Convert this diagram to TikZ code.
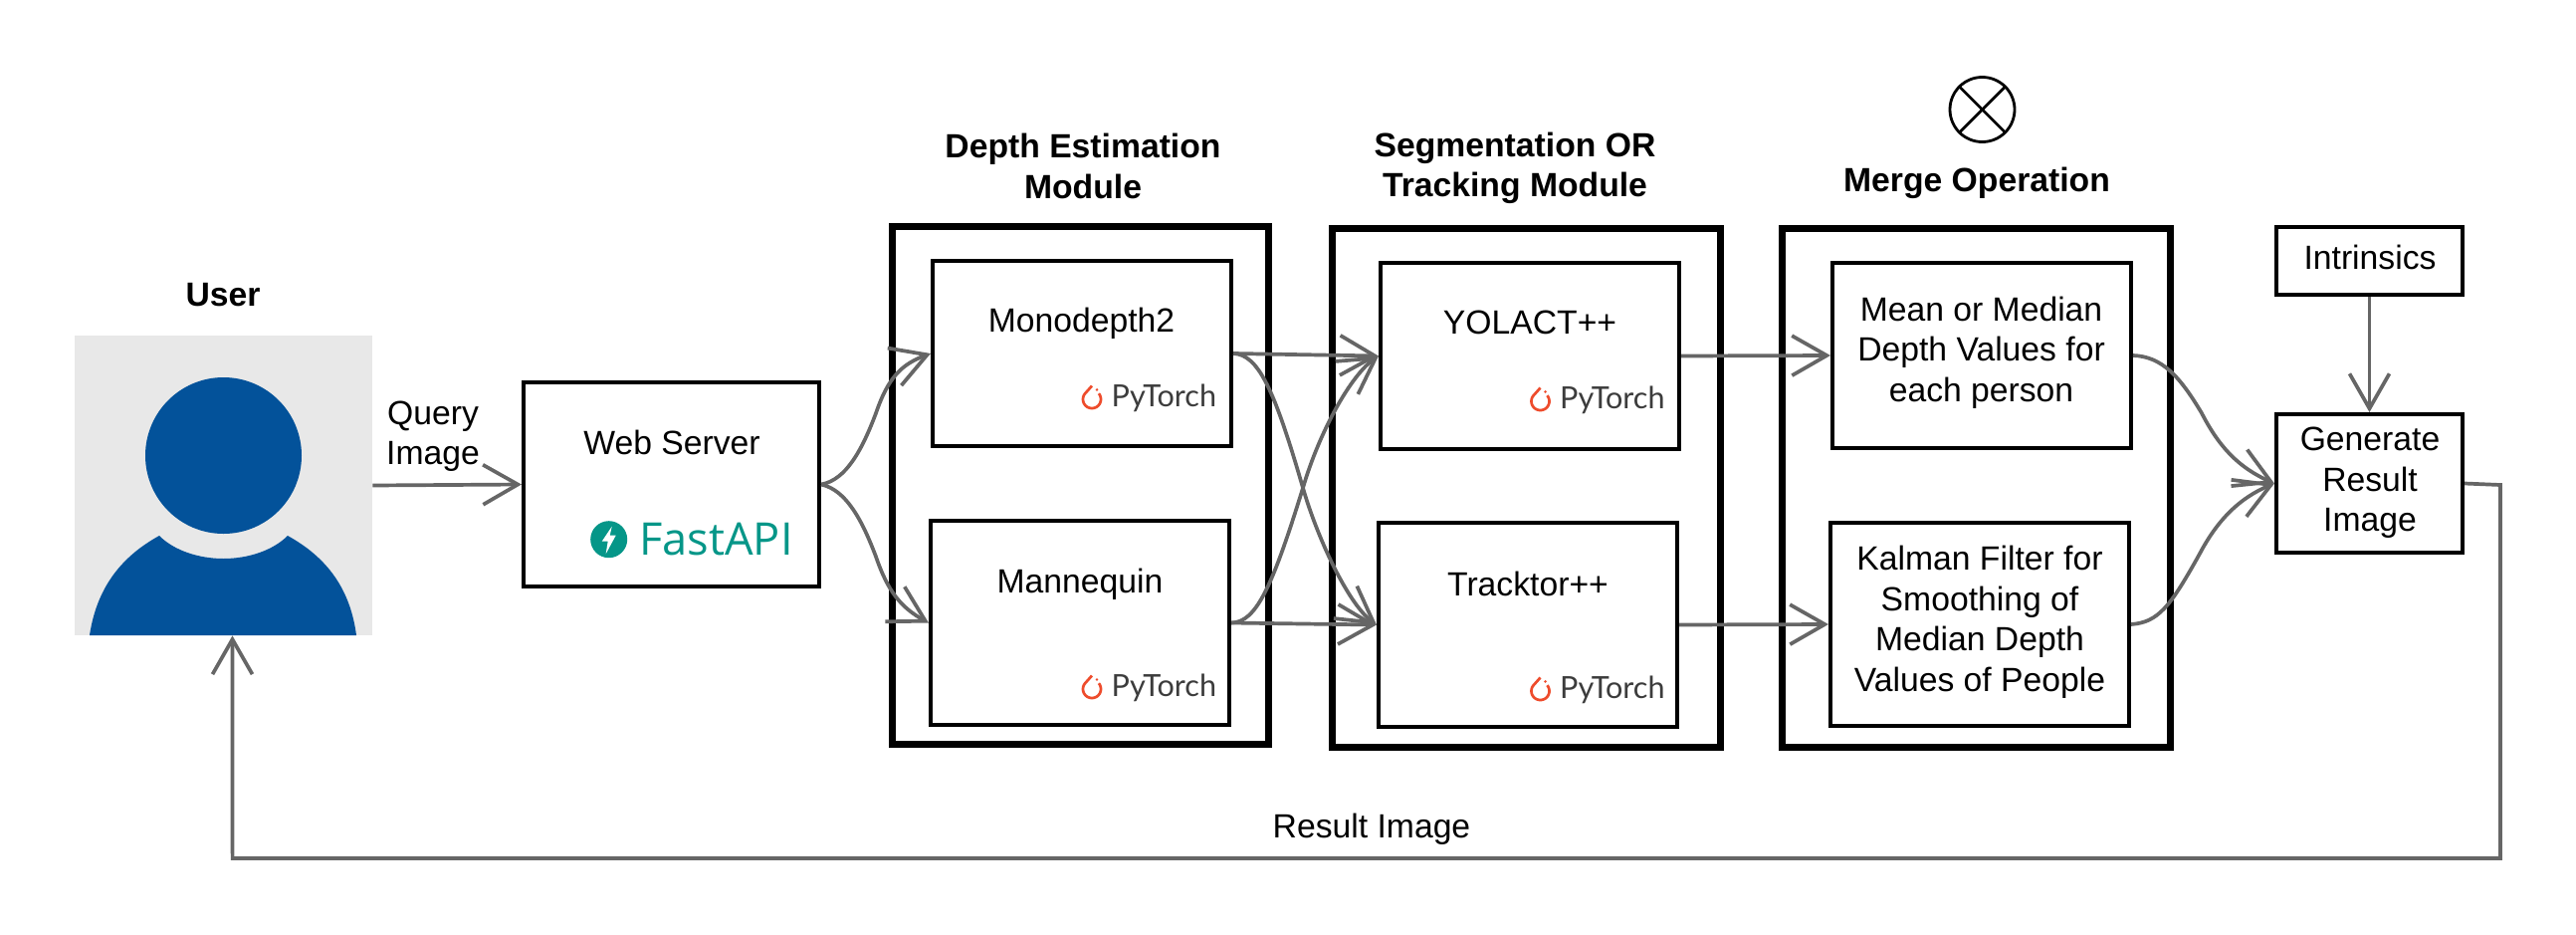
\documentclass[tikz,border=0pt]{standalone}
\usepackage{fontspec}
\setmainfont{Liberation Sans}
\newfontfamily\opensans{Open Sans}
\newfontfamily\latofont{Lato}
\usetikzlibrary{arrows.meta}
\definecolor{conn}{HTML}{666666}
\definecolor{userblue}{HTML}{03529A}
\definecolor{usergray}{HTML}{E8E8E8}
\definecolor{fastteal}{HTML}{059688}
\definecolor{torchred}{HTML}{EE4C2C}
\definecolor{torchtxt}{HTML}{3C3C3C}
\tikzset{
  box/.style={draw=black,line width=2pt,inner sep=0pt,fill=white},
  outerbox/.style={draw=black,line width=3.5pt,inner sep=0pt,fill=white},
  txt/.style={font=\fontsize{16.85}{20.25}\selectfont,align=center,inner sep=0pt,text=black},
  head/.style={font=\fontsize{16.85}{20.25}\selectfont\bfseries,align=center,inner sep=0pt,text=black},
  conn/.style={draw=conn,line width=1.85pt,-{Straight Barb[length=17.5pt,width=20pt]}},
  torchtext/.style={font=\fontsize{15.3}{17}\selectfont\latofont,text=torchtxt,inner sep=0pt,anchor=base west},
}
\newcommand{\torchlogo}[3]{%
  \draw[torchred,line width=1.35pt,line join=round] ({#2},{#3-13.5}) -- plot[variable=\t,domain=135:400,samples=40] ({#2+9*cos(\t)},{#3-9*sin(\t)});
  \fill[torchred] ({#2+5},{#3-9.6}) circle[radius=0.7pt];
  \node[torchtext] (#1) at ({#2+19.2},{#3+7}) {PyTorch};
}
\begin{document}
\begin{tikzpicture}[x=0.5pt,y=-0.5pt]
\useasboundingbox (0,0) rectangle (2588,938);
% user
\node[fill=usergray,inner sep=0pt,minimum width=149.5pt,minimum height=150.5pt] (user) at (224.5,487.5) {};
\fill[userblue] (90,638) .. controls (97,592) and (120,560) .. (160,538)
  .. controls (175,553) and (200,561) .. (224.5,561)
  .. controls (249,561) and (274,553) .. (289,538)
  .. controls (329,560) and (352,592) .. (358,638) -- cycle;
\node[circle,fill=userblue,inner sep=0pt,minimum size=78.5pt] (headc) at (224.5,457.5) {};
\node[head] (userlabel) at (224,296) {User};
\node[txt] (querylabel) at (435,438) {Query\\Image};
% web server
\node[box,minimum width=148.5pt,minimum height=102.5pt] (web) at (674.5,486.5) {};
\node[txt] (weblabel) at (675,444) {Web Server};
\node[circle,fill=fastteal,inner sep=0pt,minimum size=18.5pt] (fastlogo) at (611.7,541.7) {};
\fill[white] (614.7,528.7) -- (604.7,543.7) -- (610.7,543.7) -- (608.7,556.2) -- (618.7,537.7) -- (612.7,537.7) -- cycle;
\node[font=\fontsize{22.6}{26}\selectfont\opensans,text=fastteal,inner sep=0pt,anchor=base west] (fastapi) at (642,557) {FastAPI};
% outer boxes
\node[outerbox,minimum width=189pt,minimum height=260pt] (depthouter) at (1085,487) {};
\node[outerbox,minimum width=195pt,minimum height=260.5pt] (segouter) at (1533,489.5) {};
\node[outerbox,minimum width=195pt,minimum height=260.5pt] (mergeouter) at (1985,489.5) {};
\node[head] (depthlabel) at (1088,167) {Depth Estimation\\Module};
\node[head] (seglabel) at (1522,169) {Segmentation OR\\Tracking Module};
\node[head] (mergelabel) at (1986,184) {Merge Operation};
\node[circle,draw=black,line width=1.4pt,inner sep=0pt,minimum size=32.5pt] (mergesym) at (1991.5,110) {};
\draw[black,line width=1.4pt] (mergesym.north west) -- (mergesym.south east);
\draw[black,line width=1.4pt] (mergesym.north east) -- (mergesym.south west);
% inner boxes
\node[box,minimum width=150pt,minimum height=93pt] (mono) at (1087,355) {};
\node[box,minimum width=150pt,minimum height=102.5pt] (mann) at (1085,625.5) {};
\node[box,minimum width=150pt,minimum height=93.5pt] (yolact) at (1537,357.5) {};
\node[box,minimum width=150pt,minimum height=102.5pt] (track) at (1535,627.5) {};
\node[box,minimum width=150pt,minimum height=93pt] (mean) at (1991,357) {};
\node[box,minimum width=150pt,minimum height=102pt] (kalman) at (1989,627) {};
\node[box,minimum width=93.5pt,minimum height=69.5pt] (gen) at (2380.5,485.5) {};
\node[box,minimum width=93.5pt,minimum height=34pt] (intr) at (2380.5,262) {};
\node[txt] (monolabel) at (1086.5,325) {Monodepth2};
\node[txt] (mannlabel) at (1085,586.5) {Mannequin};
\node[txt] (yolactlabel) at (1537,324) {YOLACT++};
\node[txt] (tracklabel) at (1535,586) {Tracktor++};
\node[txt] (meanlabel) at (1990.5,354) {Mean or Median\\Depth Values for\\each person};
\node[txt] (kalmanlabel) at (1989,625) {Kalman Filter for\\Smoothing of\\Median Depth\\Values of People};
\node[txt] (genlabel) at (2381,485) {Generate\\Result\\Image};
\node[txt] (intrlabel) at (2381,258) {Intrinsics};
\node[txt] (resultlabel) at (1378,833) {Result Image};
\torchlogo{pt1}{1097}{401}
\torchlogo{pt2}{1097}{692}
\torchlogo{pt3}{1547.5}{403}
\torchlogo{pt4}{1547.5}{694}
% connectors
\draw[conn] (user.east) -- (web.west);
\draw[conn] (web.east) .. controls (850,482) and (866,452) .. (880,415) .. controls (892,380) and (905,366) .. (mono.west);
\draw[conn] (web.east) .. controls (850,492) and (866,522) .. (880,559) .. controls (892,594) and (905,610) .. (mann.west);
\draw[conn] (mono.east) -- (yolact.west);
\draw[conn] (mann.east) -- (track.west);
\draw[conn] (mann.east) .. controls (1262,625) and (1278,590) .. (1309,490) .. controls (1326,432) and (1358,376) .. (yolact.west);
\draw[conn] (mono.east) .. controls (1264,356) and (1280,390) .. (1309,490) .. controls (1325,545) and (1356,608) .. (track.west);
\draw[conn] (yolact.east) -- (mean.west);
\draw[conn] (track.east) -- (kalman.west);
\draw[conn] (mean.east) .. controls (2172,358) and (2190,378) .. (2212,415) .. controls (2230,450) and (2250,470) .. (gen.west);
\draw[conn] (kalman.east) .. controls (2168,625) and (2180,610) .. (2210,556) .. controls (2228,522) and (2250,500) .. (gen.west);
\draw[conn] (intr.south) -- (gen.north);
\coordinate (ret1) at (2512,487);
\coordinate (ret2) at (2512,862);
\coordinate (ret3) at (233.6,862);
\draw[conn] (gen.east) -- (ret1) -- (ret2) -- (ret3) -- ([xshift=4.5pt]user.south);
\end{tikzpicture}
\end{document}
